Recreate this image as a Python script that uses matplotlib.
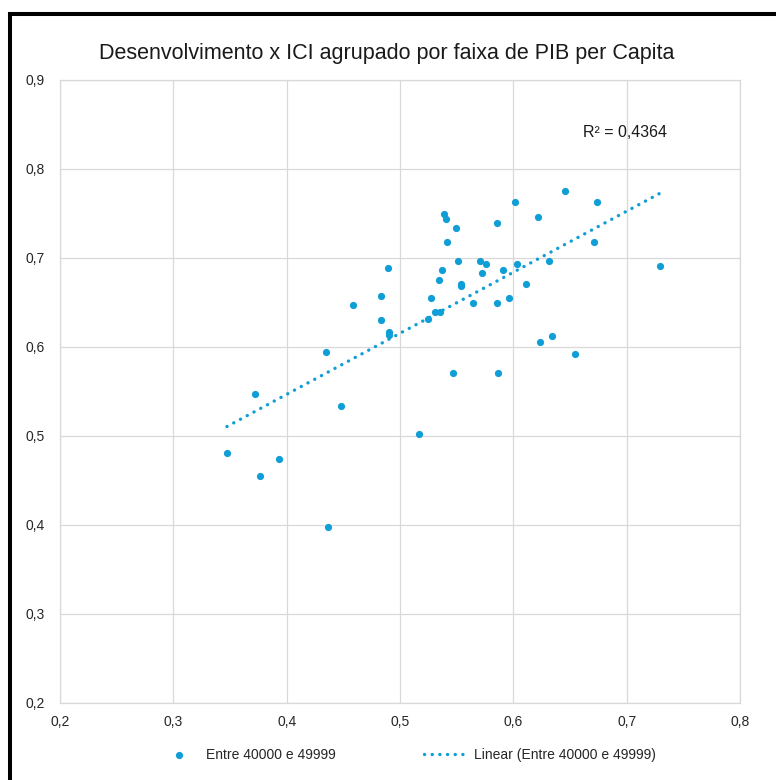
import numpy as np
import matplotlib
matplotlib.use("Agg")
import matplotlib.pyplot as plt
from matplotlib.lines import Line2D

# ---- data ----
ici = [0.3473, 0.3720, 0.3764, 0.3935, 0.4350, 0.4367, 0.4476, 0.4582, 0.4832, 0.4832,
       0.4891, 0.4905, 0.4905, 0.5167, 0.5247, 0.5276, 0.5309, 0.5353, 0.5341, 0.5370,
       0.5385, 0.5403, 0.5417, 0.5465, 0.5494, 0.5509, 0.5540, 0.5540, 0.5647, 0.5709,
       0.5723, 0.5756, 0.5858, 0.5858, 0.5865, 0.5909, 0.5959, 0.6017, 0.6032, 0.6112,
       0.6218, 0.6235, 0.6312, 0.6341, 0.6453, 0.6544, 0.6712, 0.6741, 0.7297]
desenv = [0.4802, 0.5472, 0.4547, 0.4742, 0.5940, 0.3978, 0.5330, 0.6472, 0.6570, 0.6296,
          0.6884, 0.6169, 0.6131, 0.5016, 0.6315, 0.6551, 0.6393, 0.6393, 0.6746, 0.6865,
          0.7494, 0.7435, 0.7180, 0.5705, 0.7334, 0.6963, 0.6710, 0.6680, 0.6494, 0.6963,
          0.6824, 0.6925, 0.7393, 0.6494, 0.5705, 0.6865, 0.6551, 0.7629, 0.6925, 0.6708,
          0.7454, 0.6056, 0.6966, 0.6117, 0.7750, 0.5921, 0.7180, 0.7629, 0.6903]
series_label = "Entre 40000 e 49999"
trend_label = "Linear (Entre 40000 e 49999)"
title = "Desenvolvimento x ICI agrupado por faixa de PIB per Capita"
r2_text = "R² = 0,4364"
xticks = [0.2, 0.3, 0.4, 0.5, 0.6, 0.7, 0.8]
yticks = [0.2, 0.3, 0.4, 0.5, 0.6, 0.7, 0.8, 0.9]

plt.rcParams['font.family'] = ['Liberation Sans', 'DejaVu Sans']

W, H = 776, 780
fig = plt.figure(figsize=(W / 100, H / 100), dpi=100)
fig.patch.set_facecolor('white')
ax = fig.add_axes([60 / W, 1 - 702.7 / H, 680 / W, 623 / H])

blue = '#0F9ED5'
grid = '#D9D9D9'

x = np.array(ici)
y = np.array(desenv)
ax.scatter(x, y, s=27, color=blue, zorder=3, linewidths=0, label=series_label)

coef = np.polyfit(x, y, 1)
xs = np.array([x.min(), x.max()])
ax.plot(xs, np.polyval(coef, xs), color=blue, lw=2.4, linestyle=(0, (0.05, 2.25)),
        dash_capstyle='round', zorder=2, label=trend_label)

ax.set_xlim(0.2, 0.8)
ax.set_ylim(0.2, 0.9)
ax.set_xticks(xticks)
ax.set_yticks(yticks)
fmt = lambda v: f"{v:.1f}".replace('.', ',')
ax.set_xticklabels([fmt(v) for v in xticks])
ax.set_yticklabels([fmt(v) for v in yticks])
ax.tick_params(length=0, labelsize=10, labelcolor='#262626')
ax.tick_params(axis='y', pad=10.8)
ax.tick_params(axis='x', pad=8.6)
ax.grid(True, color=grid, lw=0.9)
ax.set_axisbelow(True)
for sp in ax.spines.values():
    sp.set_color(grid)
    sp.set_linewidth(0.9)

ax.text(0.6615, 0.841, r2_text, fontsize=11.5, color='#1a1a1a', ha='left', va='center')

fig.text(387 / W, 1 - 59 / H, title, fontsize=15.5, color='#1a1a1a', ha='center', va='baseline')

fig.legend(loc='center', bbox_to_anchor=(0.523, 1 - 755 / H), ncol=2, frameon=False,
           fontsize=10, handlelength=3.3, handletextpad=0.3, columnspacing=6.4,
           scatterpoints=1, labelcolor='#262626')

# partial black frame around the chart
fig.add_artist(Line2D([10 / W, 10 / W], [0, 1 - 13.5 / H], transform=fig.transFigure,
                      color='black', lw=2.9, solid_capstyle='projecting'))
fig.add_artist(Line2D([10 / W, 1], [1 - 13.5 / H, 1 - 13.5 / H], transform=fig.transFigure,
                      color='black', lw=2.9, solid_capstyle='projecting'))

fig.savefig('out.png', dpi=100)
